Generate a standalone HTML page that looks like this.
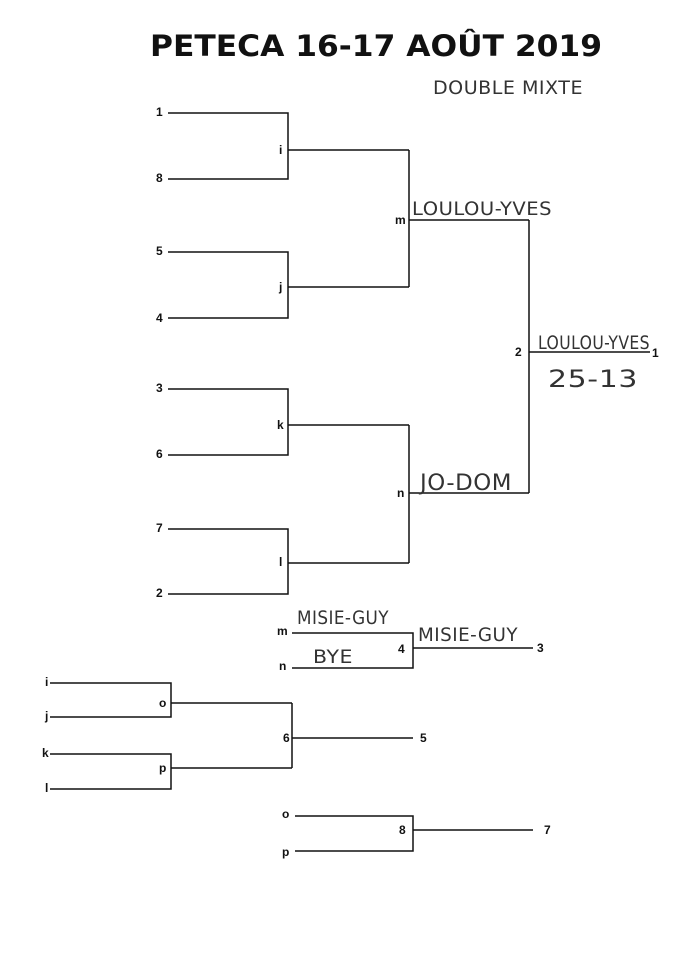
<!DOCTYPE html>
<html><head><meta charset="utf-8"><style>
html,body{margin:0;padding:0;background:#fff;}
svg{display:block}
.l{font-family:"Liberation Sans",sans-serif;font-size:12px;font-weight:bold;fill:#111}
.h{font-family:"DejaVu Sans",sans-serif;font-size:19px;fill:#333;font-weight:normal;letter-spacing:0.5px}
</style></head><body>
<svg width="700" height="963" viewBox="0 0 700 963" xmlns="http://www.w3.org/2000/svg">
<rect width="700" height="963" fill="#fff"/>
<text x="376" y="56" text-anchor="middle" font-family="'DejaVu Sans','Liberation Sans',sans-serif" font-weight="bold" font-size="29" textLength="452" lengthAdjust="spacingAndGlyphs" fill="#111">PETECA 16-17 AOÛT 2019</text>
<text x="433" y="94" class="h" font-size="22" textLength="150" lengthAdjust="spacingAndGlyphs">DOUBLE MIXTE</text>
<g stroke="#111" stroke-width="1.5" fill="none">
<polyline points="168,113 288,113 288,179 168,179"/>
<line x1="288" y1="150" x2="409" y2="150"/>
<polyline points="168,252 288,252 288,318 168,318"/>
<line x1="288" y1="287" x2="409" y2="287"/>
<line x1="409" y1="150" x2="409" y2="287"/>
<line x1="409" y1="220" x2="529" y2="220"/>
<polyline points="168,389 288,389 288,455 168,455"/>
<line x1="288" y1="425" x2="409" y2="425"/>
<polyline points="168,529 288,529 288,594 168,594"/>
<line x1="288" y1="563" x2="409" y2="563"/>
<line x1="409" y1="425" x2="409" y2="563"/>
<line x1="409" y1="493" x2="529" y2="493"/>
<line x1="529" y1="220" x2="529" y2="493"/>
<line x1="529" y1="352" x2="650" y2="352"/>
<polyline points="292,633 413,633 413,668 292,668"/>
<line x1="413" y1="648" x2="533" y2="648"/>
<polyline points="50,683 171,683 171,717 50,717"/>
<polyline points="50,754 171,754 171,789 50,789"/>
<line x1="171" y1="703" x2="292" y2="703"/>
<line x1="171" y1="768" x2="292" y2="768"/>
<line x1="292" y1="703" x2="292" y2="768"/>
<line x1="292" y1="738" x2="413" y2="738"/>
<polyline points="295,816 413,816 413,851 295,851"/>
<line x1="413" y1="830" x2="533" y2="830"/>
</g>
<g class="l">
<text x="156" y="116">1</text><text x="156" y="182">8</text>
<text x="156" y="255">5</text><text x="156" y="322">4</text>
<text x="156" y="392">3</text><text x="156" y="458">6</text>
<text x="156" y="532">7</text><text x="156" y="597">2</text>
<text x="279" y="154">i</text><text x="279" y="291">j</text>
<text x="277" y="429">k</text><text x="279" y="566">l</text>
<text x="395" y="224">m</text><text x="397" y="497">n</text>
<text x="515" y="356">2</text><text x="652" y="357">1</text>
<text x="277" y="635">m</text><text x="279" y="670">n</text>
<text x="398" y="653">4</text><text x="537" y="652">3</text>
<text x="45" y="686">i</text><text x="45" y="720">j</text>
<text x="42" y="757">k</text><text x="45" y="792">l</text>
<text x="159" y="707">o</text><text x="159" y="772">p</text>
<text x="283" y="742">6</text><text x="420" y="742">5</text>
<text x="282" y="818">o</text><text x="282" y="856">p</text>
<text x="399" y="834">8</text><text x="544" y="834">7</text>
</g>
<g class="h">
<text x="412" y="215" textLength="140" lengthAdjust="spacingAndGlyphs">LOULOU-YVES</text>
<text x="538" y="349" textLength="112" lengthAdjust="spacingAndGlyphs">LOULOU-YVES</text>
<text x="548" y="387" font-size="24" textLength="90" lengthAdjust="spacingAndGlyphs">25-13</text>
<text x="420" y="490" font-size="22" textLength="92" lengthAdjust="spacingAndGlyphs">JO-DOM</text>
<text x="297" y="624" textLength="92" lengthAdjust="spacingAndGlyphs">MISIE-GUY</text>
<text x="313" y="663" textLength="40" lengthAdjust="spacingAndGlyphs">BYE</text>
<text x="418" y="641" textLength="100" lengthAdjust="spacingAndGlyphs">MISIE-GUY</text>
</g>
</svg>
</body></html>
